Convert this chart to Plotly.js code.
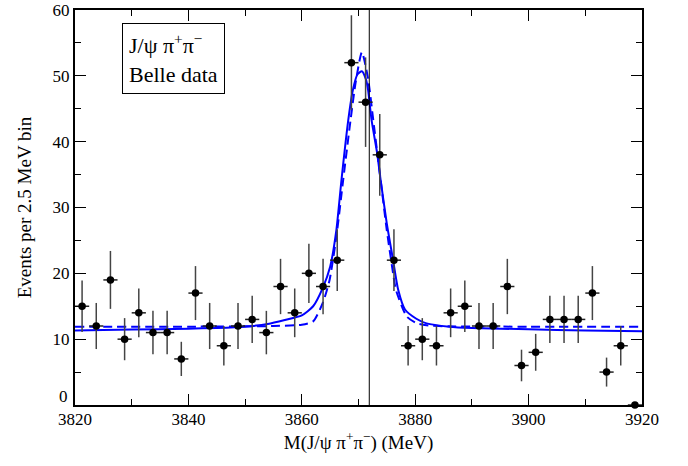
<!DOCTYPE html>
<html>
<head>
<meta charset="utf-8">
<script src="https://cdn.plot.ly/plotly-3.0.1.min.js"></script>
<style>html,body{margin:0;padding:0;background:#fff;}#chart{width:688px;height:466px;}</style>
</head>
<body>
<div id="chart"></div>
<script>
// Data points (bin centres, 2.5 MeV bins)
const binCenters = [3821.25,3823.75,3826.25,3828.75,3831.25,3833.75,3836.25,3838.75,3841.25,3843.75,
  3846.25,3848.75,3851.25,3853.75,3856.25,3858.75,3861.25,3863.75,3866.25,3868.75,
  3871.25,3873.75,3876.25,3878.75,3881.25,3883.75,3886.25,3888.75,3891.25,3893.75,
  3896.25,3898.75,3901.25,3903.75,3906.25,3908.75,3911.25,3913.75,3916.25,3918.75];
const events = [15,12,19,10,14,11,11,7,17,12,
  9,12,13,11,18,14,20,18,22,52,
  46,38,22,9,10,9,14,15,12,12,
  18,6,8,13,13,13,17,5,9,0];
const eventErrors = [3.9,3.5,4.4,3.2,3.7,3.3,3.3,2.6,4.1,3.5,
  3.0,3.5,3.6,3.3,4.2,3.7,4.5,4.2,4.7,7.2,
  6.8,6.2,4.7,3.0,3.2,3.0,3.7,3.9,3.5,3.5,
  4.2,2.4,2.8,3.6,3.6,3.6,4.1,2.2,3.0,0];
const halfBin = [1.25];

// Solid fit curve
const solidX = [3820,3830,3840,3845,3850,3854,3857,3860,3862,3863.7,3865,3866.1,3867,3868.2,3869,3869.8,3870.6,3871.3,3871.7,3872.3,3873.3,3873.9,3875,3876.1,3877,3878.2,3880.2,3882,3886,3890,3900,3910,3920];
const solidY = [11.3,11.45,11.6,11.7,11.9,12.3,12.9,13.6,15.0,17.8,21.0,26.6,34.2,43.3,47.8,50.2,50.7,49.5,47.8,43.3,38.2,34.2,27.5,22.0,17.5,14.5,13.1,12.4,11.9,11.7,11.5,11.3,11.2];

// Dashed fit curve
const dashX = [3820,3840,3855,3860,3862,3863.7,3864.9,3866.1,3867.3,3868.6,3869.5,3870.6,3871.7,3872.6,3873.9,3875,3876.1,3876.6,3878.5,3880.2,3882,3886,3900,3920];
const dashY = [11.9,11.9,12.0,12.2,12.7,15.5,19.0,25.6,34.2,43.3,49.0,53.6,49.5,43.3,34.2,26.5,20.0,17.5,13.45,12.45,12.1,11.95,11.9,11.9];

// Axis ticks
const yTicks = [0,10,20,30,40,50,60];
const yTickText = ['', '10', '20', '30', '40', '50', '60'];
const yZeroLabel = '0';

const x3872Mass = 3871.9;

const serif = "Liberation Serif, Times New Roman, serif";

const traces = [
  {x: solidX, y: solidY, mode: 'lines', line: {color: '#0000ff', width: 2, shape: 'spline', smoothing: 0.6}, hoverinfo: 'skip'},
  {x: dashX, y: dashY, mode: 'lines', line: {color: '#0000ff', width: 2, dash: '9px,5px', shape: 'spline', smoothing: 0.6}, hoverinfo: 'skip'},
  {x: binCenters, y: events, mode: 'markers', cliponaxis: false,
   marker: {color: '#000', size: 7.5},
   error_y: {type: 'data', array: eventErrors, color: '#444', thickness: 1.5, width: 0},
   error_x: {type: 'constant', value: halfBin[0], color: '#222', thickness: 1.5, width: 0}}
];

const axisCommon = {
  showgrid: false, zeroline: false, showline: true, linecolor: '#000', linewidth: 2,
  mirror: 'allticks', ticks: 'inside', ticklen: 11, tickwidth: 1, tickcolor: '#000',
  tickfont: {family: serif, size: 17, color: '#000'}
};

const layout = {
  width: 688, height: 466,
  margin: {l: 75, r: 46, t: 10, b: 61},
  paper_bgcolor: '#fff', plot_bgcolor: '#fff',
  showlegend: false,
  xaxis: Object.assign({}, axisCommon, {
    range: [3820, 3920], dtick: 20, tick0: 3820,
    ticklabelstandoff: -2,
    minor: {dtick: 10, ticklen: 6, tickwidth: 1, tickcolor: '#000', ticks: 'inside'},
    title: {text: 'M(J/ψ π<sup>+</sup>π<sup>−</sup>) (MeV)', font: {family: serif, size: 19, color: '#000'}, standoff: 5}
  }),
  yaxis: Object.assign({}, axisCommon, {
    range: [0, 60], tickmode: 'array', tickvals: yTicks, ticktext: yTickText,
    minor: {dtick: 5, ticklen: 6, tickwidth: 1, tickcolor: '#000', ticks: 'inside'},
    title: {text: 'Events per 2.5 MeV bin', font: {family: serif, size: 19, color: '#000'}, standoff: 16}
  }),
  shapes: [
    {type: 'line', xref: 'x', yref: 'paper', x0: x3872Mass, x1: x3872Mass, y0: 0, y1: 1, line: {color: '#000', width: 1}}
  ],
  annotations: [
    {xref: 'paper', yref: 'paper', x: 0.083, y: 0.966, xanchor: 'left', yanchor: 'top',
     text: 'J/ψ π<sup>+</sup>π<sup>−</sup><br>Belle data', align: 'left', showarrow: false,
     font: {family: serif, size: 22, color: '#000'}, bordercolor: '#000', borderwidth: 1, borderpad: 6, bgcolor: '#fff'},
    {xref: 'paper', yref: 'y', x: 0, y: yTicks[0], xanchor: 'right', yanchor: 'bottom',
     xshift: -5, yshift: -3, text: yZeroLabel, showarrow: false,
     font: {family: serif, size: 17, color: '#000'}}
  ]
};

Plotly.newPlot('chart', traces, layout, {displayModeBar: false, staticPlot: true});
</script>
</body>
</html>
